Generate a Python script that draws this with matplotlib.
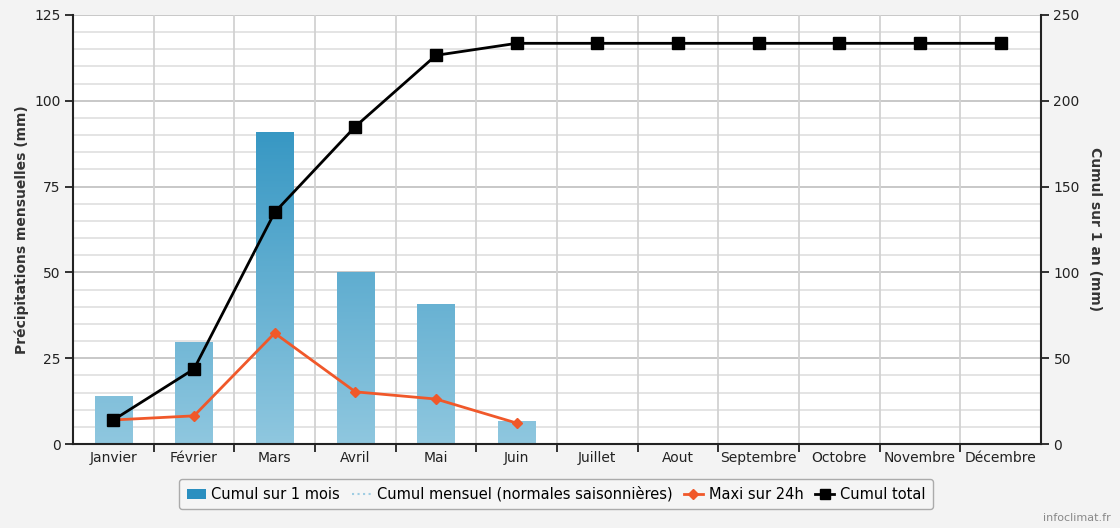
import matplotlib
matplotlib.use("Agg")
import matplotlib.pyplot as plt
import numpy as np
from matplotlib.lines import Line2D
from matplotlib.patches import Patch
from matplotlib.colors import LinearSegmentedColormap

months = ["Janvier", "Février", "Mars", "Avril", "Mai", "Juin", "Juillet",
          "Aout", "Septembre", "Octobre", "Novembre", "Décembre"]
cumul_mois = [14.0, 29.7, 90.9, 50.1, 40.8, 6.7]
maxi_24h = [7.0, 8.2, 32.3, 15.2, 13.1, 6.1]
cumul_total = [14.0, 43.7, 135.0, 185.0, 226.5, 233.5, 233.5, 233.5, 233.5,
               233.5, 233.5, 233.5]

fig = plt.figure(figsize=(11.2, 5.28), dpi=100)
fig.patch.set_facecolor("#f3f3f3")
ax = fig.add_axes([73 / 1120, 84 / 528, (1041 - 73) / 1120, (444 - 15) / 528])
ax.set_facecolor("white")
ax2 = ax.twinx()

x = np.arange(len(months))

# grid
for v in np.arange(5, 126, 5):
    major = v % 25 == 0
    ax.axhline(v, color="#c4c4c4" if major else "#e2e2e2", lw=1.3, zorder=0)
for b in np.arange(0.5, 11.5, 1):
    ax.axvline(b, color="#d2d2d2", lw=1.3, zorder=0)

# gradient bars
cmap = LinearSegmentedColormap.from_list("b", ["#8fc7df", "#2f93c1"])
bars = ax.bar(x[:len(cumul_mois)], cumul_mois, width=0.46, color="#5aaad0",
              zorder=2, lw=0)
for bar in bars:
    bx, by = bar.get_x(), bar.get_y()
    w, h = bar.get_width(), bar.get_height()
    g = np.linspace(0, h / 100.0, 256).reshape(-1, 1)
    im = ax.imshow(g, extent=[bx, bx + w, by, by + h], origin="lower",
                   cmap=cmap, vmin=0, vmax=1, aspect="auto", zorder=2.1)
    im.set_clip_path(bar)
ax.set_aspect("auto")
ax.set_xlim(-0.5, 11.5)
ax.set_ylim(0, 125)
ax2.set_ylim(0, 250)

ax.plot(x[:len(maxi_24h)], maxi_24h, color="#f0582a", lw=2, marker="D",
        ms=5.5, zorder=4)
ax2.plot(x, cumul_total, color="black", lw=2, marker="s", ms=8, zorder=5)

# spines & ticks
for a in (ax, ax2):
    for s in ("top", "right", "left", "bottom"):
        a.spines[s].set_visible(False)
ax.spines["left"].set_visible(True)
ax.spines["bottom"].set_visible(True)
ax2.spines["right"].set_visible(True)
for s in ("left", "bottom"):
    ax.spines[s].set_linewidth(1.5)
    ax.spines[s].set_color("#222222")
ax2.spines["right"].set_linewidth(1.5)
ax2.spines["right"].set_color("#222222")

ax.set_yticks([0, 25, 50, 75, 100, 125])
ax.tick_params(axis="y", direction="out", length=6, width=1.3,
               labelsize=10, colors="#222222", pad=3)
ax2.set_yticks([0, 50, 100, 150, 200, 250])
ax2.tick_params(axis="y", direction="out", length=6, width=1.3,
                labelsize=10, colors="#222222", pad=3)
ax.set_xticks(np.arange(0.5, 11.5, 1), minor=False)
ax.set_xticklabels([])
ax.tick_params(axis="x", which="major", direction="out", length=6,
               width=1.3, color="#222222")
ax.set_xticks(x, minor=True)
ax.set_xticklabels(months, minor=True)
ax.tick_params(axis="x", which="minor", length=0, labelsize=10,
               colors="#222222", pad=5)

ax.set_ylabel("Précipitations mensuelles (mm)", fontsize=10,
              fontweight="bold", color="#333333", labelpad=4)
ax2.set_ylabel("Cumul sur 1 an (mm)", fontsize=10, fontweight="bold",
               color="#333333", rotation=270, labelpad=16)

handles = [
    Patch(facecolor="#2a8fc0", edgecolor="none"),
    Line2D([], [], color="#9fcde3", lw=1.5, ls=":"),
    Line2D([], [], color="#f0582a", lw=2, marker="D", ms=5),
    Line2D([], [], color="black", lw=2, marker="s", ms=7),
]
labels = ["Cumul sur 1 mois", "Cumul mensuel (normales saisonnières)",
          "Maxi sur 24h", "Cumul total"]
leg = fig.legend(handles, labels, loc="center",
                 bbox_to_anchor=(556 / 1120, 1 - 494 / 528),
                 ncol=4, frameon=True, fontsize=10.5, handlelength=1.3,
                 handletextpad=0.4, columnspacing=0.8, borderpad=0.5,
                 fancybox=True)
leg.get_frame().set_edgecolor("#999999")
leg.get_frame().set_facecolor("#f6f6f6")
leg.get_frame().set_linewidth(1.0)

fig.text(1111 / 1120, 1 - 518 / 528, "infoclimat.fr", ha="right", va="center",
         fontsize=8, color="#888888")

fig.savefig("out.png", dpi=100, facecolor=fig.get_facecolor())
